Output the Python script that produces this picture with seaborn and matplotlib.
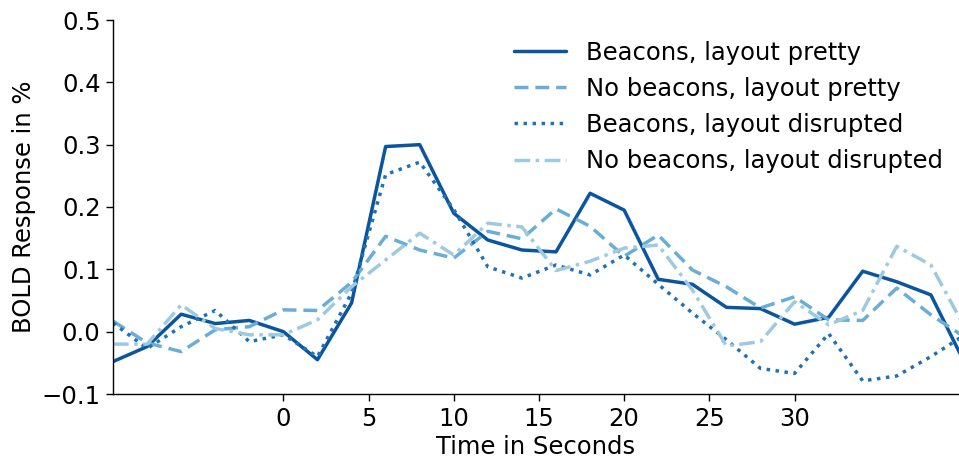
import numpy as np
import pandas as pd
import matplotlib
matplotlib.use("Agg")
import matplotlib.pyplot as plt
import seaborn as sns

# Time points (seconds) of the averaged BOLD time courses
time_s = list(range(-10, 42, 2))

beacons_pretty = [-0.048, -0.024, 0.028, 0.013, 0.018, 0.000, -0.045, 0.046,
                  0.297, 0.300, 0.190, 0.147, 0.131, 0.128, 0.222, 0.195,
                  0.084, 0.076, 0.039, 0.037, 0.012, 0.023, 0.097, 0.080,
                  0.059, -0.051]
nobeacons_pretty = [0.017, -0.018, -0.032, 0.003, 0.008, 0.035, 0.034, 0.079,
                    0.153, 0.131, 0.118, 0.161, 0.149, 0.197, 0.169, 0.121,
                    0.155, 0.099, 0.072, 0.038, 0.056, 0.019, 0.018, 0.070,
                    0.027, -0.009]
beacons_disrupted = [0.014, -0.027, 0.008, 0.034, -0.016, -0.005, -0.040, 0.062,
                     0.252, 0.272, 0.196, 0.104, 0.086, 0.107, 0.091, 0.123,
                     0.076, 0.030, -0.013, -0.059, -0.067, -0.003, -0.079, -0.071,
                     -0.040, -0.005]
nobeacons_disrupted = [-0.020, -0.020, 0.043, 0.005, -0.005, -0.005, 0.019, 0.072,
                       0.115, 0.158, 0.123, 0.174, 0.168, 0.098, 0.113, 0.134,
                       0.139, 0.067, -0.023, -0.016, 0.048, 0.011, 0.034, 0.137,
                       0.107, 0.006]

conditions = ["Beacons, layout pretty", "No beacons, layout pretty",
              "Beacons, layout disrupted", "No beacons, layout disrupted"]
series = [beacons_pretty, nobeacons_pretty, beacons_disrupted, nobeacons_disrupted]

df = pd.DataFrame({
    "Time in Seconds": np.tile(time_s, len(conditions)),
    "BOLD Response in %": np.concatenate(series),
    "Condition": np.repeat(conditions, len(time_s)),
})

sns.set_style("ticks")
plt.rcParams["font.family"] = ["DejaVu Sans"]
plt.rcParams.update({
    "text.color": "black",
    "axes.labelcolor": "black",
    "xtick.color": "black",
    "ytick.color": "black",
})

colors = {
    "Beacons, layout pretty": "#0b559f",
    "No beacons, layout pretty": "#6aaed6",
    "Beacons, layout disrupted": "#2171b5",
    "No beacons, layout disrupted": "#9ecae1",
}
dashes = {
    "Beacons, layout pretty": "",
    "No beacons, layout pretty": (4, 2),
    "Beacons, layout disrupted": (1, 1.6),
    "No beacons, layout disrupted": (4.5, 1.6, 1, 1.6),
}

fs = 17.5

fig = plt.figure(figsize=(9.59, 4.59), dpi=100)
ax = fig.add_axes([113 / 959, 1 - 394 / 459, 1 - 113 / 959, (394 - 20) / 459])

sns.lineplot(data=df, x="Time in Seconds", y="BOLD Response in %",
             hue="Condition", style="Condition", hue_order=conditions,
             style_order=conditions, palette=colors, dashes=dashes,
             linewidth=2.5, ax=ax)

ax.set_xlim(-10, 39.65)
ax.set_ylim(-0.1, 0.5)
ax.set_xticks([0, 5, 10, 15, 20, 25, 30])
ax.set_yticks([-0.1, 0.0, 0.1, 0.2, 0.3, 0.4, 0.5])
ax.tick_params(labelsize=fs, length=5, width=1, pad=4)
ax.set_xlabel("Time in Seconds", fontsize=fs, labelpad=3)
ax.set_ylabel("BOLD Response in %", fontsize=fs, labelpad=4)
for s in ["left", "bottom"]:
    ax.spines[s].set_color("black")
    ax.spines[s].set_linewidth(1)
sns.despine(ax=ax)

leg = ax.legend(loc="upper right", bbox_to_anchor=(1.005, 1.0),
                frameon=False, fontsize=fs,
                handlelength=2.14, handletextpad=0.82, labelspacing=0.5,
                borderaxespad=0.4, borderpad=0.45)

fig.savefig("out.png", dpi=100)
